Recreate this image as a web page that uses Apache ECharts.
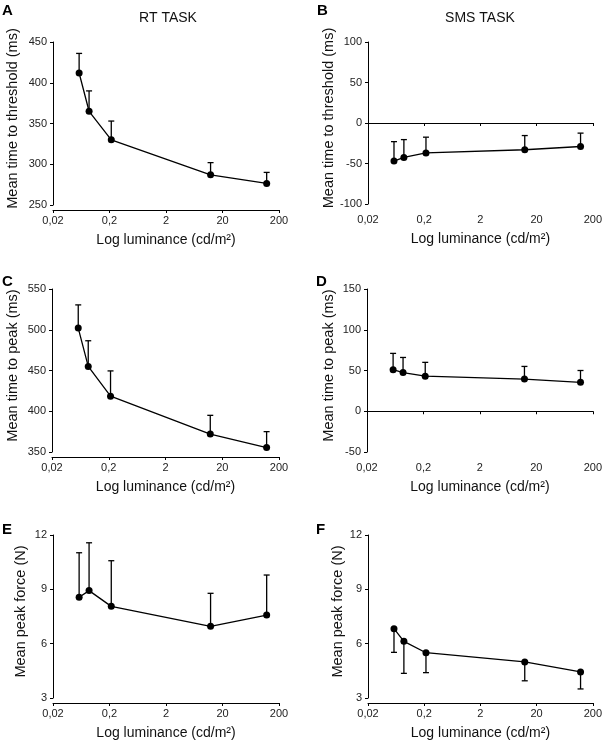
<!DOCTYPE html>
<html>
<head>
<meta charset="utf-8">
<script src="https://cdn.jsdelivr.net/npm/echarts@6/dist/echarts.min.js"></script>
<style>
html,body{margin:0;padding:0;background:#fff;}
#chart{width:605px;height:742px;}
</style>
</head>
<body>
<div id="chart"></div>
<script>
// Luminance levels (cd/m2)
const luminance = [0.058, 0.087, 0.215, 12.3, 121];
const xTicks = [0.02, 0.2, 2, 20, 200];

// A: RT task, time to threshold
const rtThreshold = [412, 365, 330, 287, 276.5];
const rtThresholdErr = [436, 390, 353, 302, 290];
// B: SMS task, time to threshold
const smsThreshold = [-47, -42.5, -37, -33, -29];
const smsThresholdErr = [-23, -20.5, -17.5, -15.5, -12.5];
// C: RT task, time to peak
const rtPeak = [502, 455, 418.5, 372, 355.5];
const rtPeakErr = [530.5, 486.5, 449.5, 395, 375];
// D: SMS task, time to peak
const smsPeak = [51, 47.5, 43, 39.5, 35.5];
const smsPeakErr = [71, 66, 60, 55, 50];
// E: RT task, peak force
const rtForce = [8.56, 8.93, 8.06, 6.96, 7.58];
const rtForceErr = [11.02, 11.57, 10.58, 8.78, 9.79];
// F: SMS task, peak force (error bars drawn downward)
const smsForce = [6.83, 6.13, 5.5, 4.99, 4.44];
const smsForceErr = [5.52, 4.36, 4.4, 3.95, 3.5];

const panels = [
  {letter:'A', mean: rtThreshold, err: rtThresholdErr, yName:'Mean time to threshold (ms)', min:250, max:450, interval:50,
   grid:{left:53, top:42, width:226, height:163}, nameGap:33, lx:2, ly:11},
  {letter:'B', mean: smsThreshold, err: smsThresholdErr, yName:'Mean time to threshold (ms)', min:-100, max:100, interval:50,
   grid:{left:368, top:42, width:225, height:162}, nameGap:30, lx:317, ly:11},
  {letter:'C', mean: rtPeak, err: rtPeakErr, yName:'Mean time to peak (ms)', min:350, max:550, interval:50,
   grid:{left:52, top:289, width:227, height:163}, nameGap:32, lx:2, ly:282},
  {letter:'D', mean: smsPeak, err: smsPeakErr, yName:'Mean time to peak (ms)', min:-50, max:150, interval:50,
   grid:{left:367, top:289, width:226, height:163}, nameGap:31, lx:316, ly:282},
  {letter:'E', mean: rtForce, err: rtForceErr, yName:'Mean peak force (N)', min:3, max:12, interval:3,
   grid:{left:53, top:535, width:226, height:163}, nameGap:25, lx:2, ly:530},
  {letter:'F', mean: smsForce, err: smsForceErr, yName:'Mean peak force (N)', min:3, max:12, interval:3,
   grid:{left:368, top:535, width:225, height:163}, nameGap:23, lx:316, ly:530}
];

const FONT = '"Liberation Sans", Arial, Helvetica, sans-serif';
const INK = '#111';

const grids = [], xAxes = [], yAxes = [], series = [], graphics = [];

function fmtTick(v) {
  return String(Number(Number(v).toPrecision(6))).replace('.', ',');
}

panels.forEach((p, i) => {
  grids.push(Object.assign({containLabel:false}, p.grid));
  xAxes.push({
    type:'log', logBase:10, gridIndex:i, min:0.02, max:200, offset:5,
    name:'Log luminance (cd/m²)', nameLocation:'middle', nameGap:23,
    nameTextStyle:{fontFamily:FONT, fontSize:14, color:INK},
    axisLine:{show:true, lineStyle:{color:'#000', width:1}},
    axisTick:{show:true, length:3, customValues:xTicks, lineStyle:{color:'#000', width:1}},
    axisLabel:{customValues:xTicks, formatter:fmtTick, fontFamily:FONT, fontSize:11, color:'#222', margin:5},
    splitLine:{show:false}, minorTick:{show:false}, minorSplitLine:{show:false}
  });
  yAxes.push({
    type:'value', gridIndex:i, min:p.min, max:p.max, interval:p.interval,
    name:p.yName, nameLocation:'middle', nameGap:p.nameGap, nameRotate:90,
    nameTextStyle:{fontFamily:FONT, fontSize:14.5, color:INK, padding:[0,0,0,10]},
    axisLine:{show:true, lineStyle:{color:'#000', width:1}},
    axisTick:{show:true, length:3, lineStyle:{color:'#000', width:1}},
    axisLabel:{fontFamily:FONT, fontSize:11, color:'#222', margin:6},
    splitLine:{show:false}
  });
  series.push({
    type:'custom', xAxisIndex:i, yAxisIndex:i, z:2,
    data: luminance.map((x, k) => [x, p.mean[k], p.err[k]]),
    encode:{x:0, y:[1,2]},
    renderItem: function(params, api) {
      const x = api.value(0), y0 = api.value(1), y1 = api.value(2);
      const a = api.coord([x, y0]);
      const b = api.coord([x, y1]);
      const st = {stroke:'#000', lineWidth:1.3};
      return {type:'group', children:[
        {type:'line', shape:{x1:a[0], y1:a[1], x2:b[0], y2:b[1]}, style:st},
        {type:'line', shape:{x1:b[0]-3, y1:b[1], x2:b[0]+3, y2:b[1]}, style:st}
      ]};
    },
    silent:true
  });
  series.push({
    type:'line', xAxisIndex:i, yAxisIndex:i, z:3,
    data: luminance.map((x, k) => [x, p.mean[k]]),
    symbol:'circle', symbolSize:7, showSymbol:true,
    lineStyle:{color:'#000', width:1.3},
    itemStyle:{color:'#000'},
    silent:true, animation:false
  });
  graphics.push({type:'text', x:p.lx, y:p.ly,
    style:{text:p.letter, fontFamily:FONT, fontSize:15, fontWeight:'bold', fill:'#000', align:'left', verticalAlign:'middle'}});
});

graphics.push({type:'text', x:168, y:18,
  style:{text:'RT TASK', fontFamily:FONT, fontSize:14, fill:INK, align:'center', verticalAlign:'middle'}});
graphics.push({type:'text', x:480, y:18,
  style:{text:'SMS TASK', fontFamily:FONT, fontSize:14, fill:INK, align:'center', verticalAlign:'middle'}});

const chart = echarts.init(document.getElementById('chart'), null, {renderer:'canvas'});
chart.setOption({
  animation:false,
  backgroundColor:'#fff',
  grid: grids,
  xAxis: xAxes,
  yAxis: yAxes,
  series: series,
  graphic: graphics
});
</script>
</body>
</html>
